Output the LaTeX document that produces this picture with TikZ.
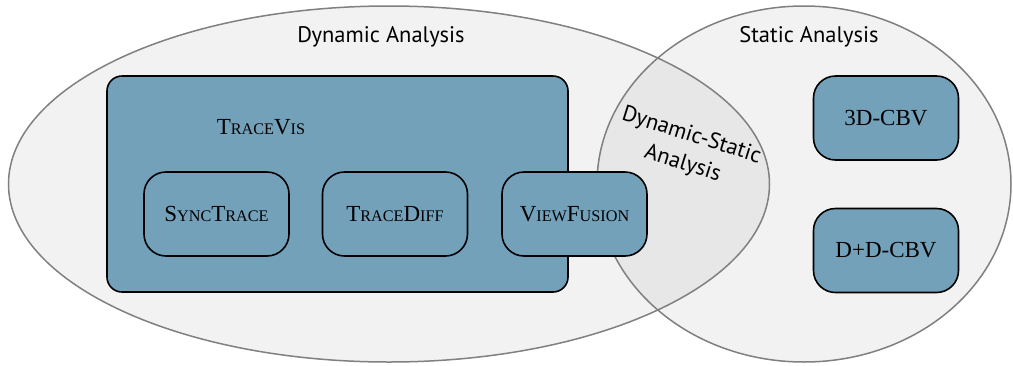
\documentclass[tikz,border=0pt]{standalone}
\usepackage{fontspec}
\setmainfont{Liberation Serif}
\newfontfamily\labelfont{PT Sans}
\definecolor{setfill}{RGB}{242,242,242}
\definecolor{overlapfill}{RGB}{231,231,231}
\definecolor{setline}{RGB}{128,128,128}
\definecolor{toolfill}{RGB}{116,161,186}
% manual small caps: large initial, smaller capitals
\newcommand\sk[1]{{\fontsize{16.2}{17}\selectfont #1}}
\tikzset{
  setline/.style={draw=setline, line width=1.5pt},
  toolbox/.style={draw=black, line width=1.6pt, fill=toolfill, rounded corners=22pt,
     font=\fontsize{23}{24}\selectfont, inner sep=0pt,
     minimum width=145pt, minimum height=84pt},
  setlabel/.style={font=\labelfont\fontsize{22.5}{24}\selectfont, inner sep=0pt}
}
\begin{document}
\begin{tikzpicture}[x=1pt,y=-1pt]
\useasboundingbox (0,0) rectangle (1013,365);
% the two analysis sets and their overlap
\fill[setfill] (389,184) ellipse [x radius=380.5, y radius=178];
\fill[setfill] (804,184) ellipse [x radius=207, y radius=178];
\begin{scope}
  \clip (389,184) ellipse [x radius=380.5, y radius=178];
  \fill[overlapfill] (804,184) ellipse [x radius=207, y radius=178];
\end{scope}
\draw[setline] (389,184) ellipse [x radius=380.5, y radius=178];
\draw[setline] (804,184) ellipse [x radius=207, y radius=178];

\node[setlabel] (dyn) at (381,37) {Dynamic Analysis};
\node[setlabel] (sta) at (809,37) {Static Analysis};
\node[setlabel, align=center, rotate=-17.5] (dynsta) at (687,150) {Dynamic-Static\\[5.5pt]Analysis};

% TraceVis and its components
\node[toolbox, rounded corners=15pt, minimum width=461pt, minimum height=216pt] (tracevis) at (337.5,184) {};
\node[font=\fontsize{23}{24}\selectfont, inner sep=0pt] (tvlabel) at (261,127) {T\sk{RACE}V\sk{IS}};
\node[toolbox] (sync) at (216.5,214) {S\sk{YNC}T\sk{RACE}};
\node[toolbox] (diff) at (395,214) {T\sk{RACE}D\sk{IFF}};
\node[toolbox] (fusion) at (574.5,214) {V\sk{IEW}F\sk{USION}};

% static analysis tools
\node[toolbox] (cbv) at (886,118) {3D-CBV};
\node[toolbox] (ddcbv) at (886,250.5) {D+D-CBV};
\end{tikzpicture}
\end{document}
